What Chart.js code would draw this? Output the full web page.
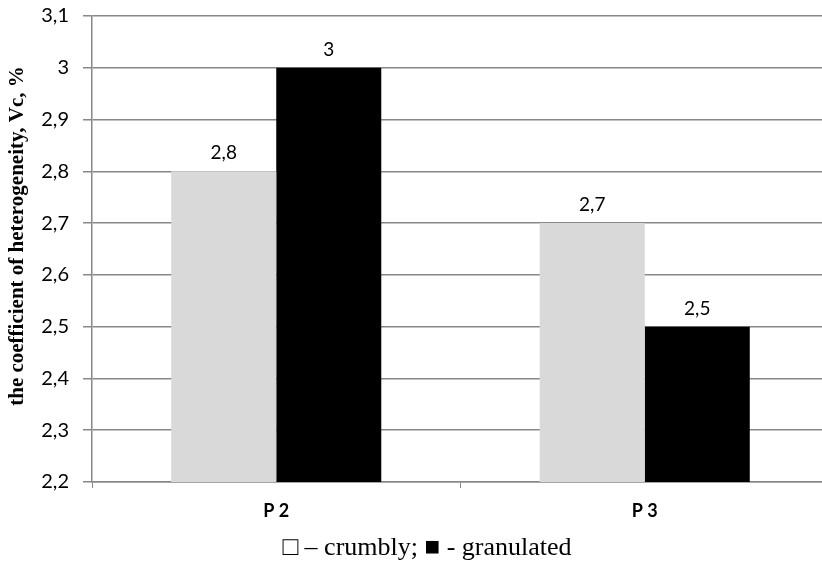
<!DOCTYPE html>
<html>
<head>
<meta charset="utf-8">
<script src="https://cdn.jsdelivr.net/npm/chart.js@4/dist/chart.umd.min.js"></script>
<style>
  html, body { margin: 0; padding: 0; background: #fff; overflow: hidden; }
  #wrap { width: 829px; height: 562px; }
</style>
</head>
<body>
<div id="wrap"><canvas id="myChart"></canvas></div>
<script>
// Données
const categories = ['P 2', 'P 3'];
const crumbly = [2.8, 2.7];
const granulated = [3.0, 2.5];
const yTicks = [2.2, 2.3, 2.4, 2.5, 2.6, 2.7, 2.8, 2.9, 3.0, 3.1];
const yTitle = 'the coefficient of heterogeneity, Vc, %';
const legendText = '\u25A1 \u2013 crumbly; \u25A0 - granulated';

// Format avec virgule décimale
function fmt(v) {
    return String(Math.round(v * 10) / 10).replace('.', ',');
}

// Plugin pour les étiquettes au-dessus des barres et les titres
const barLabels = {
    id: 'barLabels',
    afterDatasetsDraw(chart) {
        const ctx = chart.ctx;
        ctx.save();
        ctx.font = '19px Lato, "Open Sans", sans-serif';
        ctx.fillStyle = '#000';
        ctx.textAlign = 'center';
        ctx.textBaseline = 'middle';
        chart.data.datasets.forEach(function(ds, i) {
            const meta = chart.getDatasetMeta(i);
            meta.data.forEach(function(bar, j) {
                ctx.fillText(fmt(ds.data[j]), bar.x, bar.y - 18);
            });
        });

        // Légende en bas
        ctx.font = '26px "Liberation Serif", "DejaVu Serif", serif';
        ctx.fillText(legendText, 427, 548);

        // Titre de l'axe Y
        ctx.translate(18, 236);
        ctx.rotate(-Math.PI / 2);
        ctx.font = 'bold 21px "Liberation Serif", "DejaVu Serif", serif';
        ctx.fillText(yTitle, 0, 0);
        ctx.restore();
    }
};

const ctx = document.getElementById('myChart');

new Chart(ctx, {
    type: 'bar',
    data: {
        labels: categories,
        datasets: [{
            label: 'crumbly',
            data: crumbly,
            backgroundColor: '#d9d9d9',
            categoryPercentage: 0.57,
            barPercentage: 1
        }, {
            label: 'granulated',
            data: granulated,
            backgroundColor: '#000000',
            categoryPercentage: 0.57,
            barPercentage: 1
        }]
    },
    options: {
        responsive: true,
        maintainAspectRatio: false,
        animation: false,
        layout: { padding: { top: 16, right: 0, left: 0, bottom: 0 } },
        plugins: {
            legend: { display: false },
            tooltip: { enabled: false }
        },
        scales: {
            x: {
                grid: {
                    offset: true,
                    drawOnChartArea: false,
                    drawTicks: true,
                    tickLength: 6,
                    color: '#888'
                },
                border: { color: '#888', width: 1.5 },
                ticks: {
                    color: '#000',
                    padding: 12,
                    font: { family: 'Lato, "Open Sans", sans-serif', size: 18, weight: 'bold' }
                },
                afterFit: function(scale) {
                    scale.height = 80;
                    scale.paddingLeft = 0;
                    scale.paddingRight = 0;
                }
            },
            y: {
                min: 2.2,
                max: 3.1,
                afterBuildTicks: function(scale) {
                    scale.ticks = yTicks.map(function(v) { return { value: v }; });
                },
                grid: {
                    color: '#888',
                    lineWidth: 1.5,
                    tickLength: 9
                },
                border: { color: '#888', width: 1.5 },
                ticks: {
                    color: '#000',
                    padding: 14,
                    font: { family: 'Lato, "Open Sans", sans-serif', size: 20 },
                    callback: function(v) { return fmt(v); }
                },
                afterFit: function(scale) {
                    scale.width = 92;
                    scale.paddingTop = 0;
                    scale.paddingBottom = 0;
                }
            }
        }
    },
    plugins: [barLabels]
});
</script>
</body>
</html>
